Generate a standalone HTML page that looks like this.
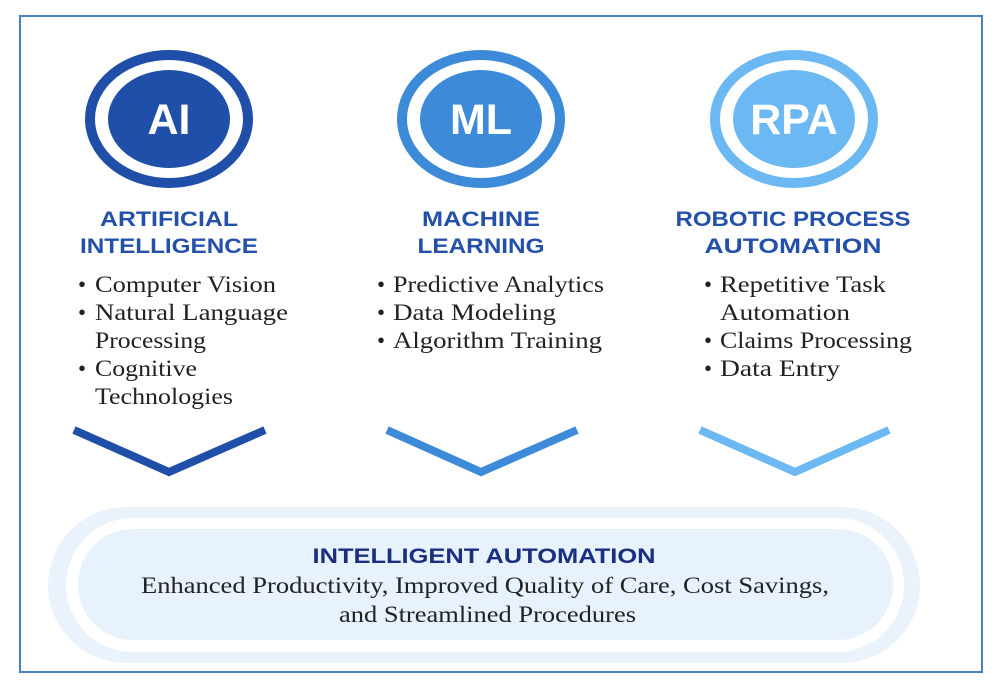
<!DOCTYPE html>
<html><head><meta charset="utf-8"><style>
html,body{margin:0;padding:0;background:#fff;}
svg{display:block;}
.t{font-family:"Liberation Sans",sans-serif;font-weight:bold;font-size:21px;text-anchor:middle;}
.b{font-family:"Liberation Serif",serif;font-size:23px;fill:#222;}
.c{font-family:"Liberation Sans",sans-serif;font-weight:bold;font-size:43px;fill:#fff;text-anchor:middle;}
</style></head><body>
<svg width="992" height="683" viewBox="0 0 992 683" xmlns="http://www.w3.org/2000/svg">
<rect x="0" y="0" width="992" height="683" fill="#fff"/>
<rect x="20" y="16" width="962" height="656" fill="#fff" stroke="#4a7fc1" stroke-width="2"/>

<g>
<ellipse cx="169" cy="119" rx="79" ry="64" fill="none" stroke="#1f4fa8" stroke-width="10"/>
<ellipse cx="169" cy="119" rx="61" ry="49" fill="#1f4fa8"/>
<text class="c" x="169" y="134">AI</text>
<ellipse cx="481" cy="119" rx="79" ry="64" fill="none" stroke="#3d8ad8" stroke-width="10"/>
<ellipse cx="481" cy="119" rx="61" ry="49" fill="#3d8ad8"/>
<text class="c" x="481" y="134">ML</text>
<ellipse cx="794" cy="119" rx="79" ry="64" fill="none" stroke="#6cb8f2" stroke-width="10"/>
<ellipse cx="794" cy="119" rx="61" ry="49" fill="#6cb8f2"/>
<text class="c" x="794" y="134">RPA</text>
</g>

<g fill="#2350a8">
<text class="t" x="169" y="226" textLength="138" lengthAdjust="spacingAndGlyphs">ARTIFICIAL</text>
<text class="t" x="169" y="253" textLength="178" lengthAdjust="spacingAndGlyphs">INTELLIGENCE</text>
<text class="t" x="481" y="226" textLength="118" lengthAdjust="spacingAndGlyphs">MACHINE</text>
<text class="t" x="481" y="253" textLength="127" lengthAdjust="spacingAndGlyphs">LEARNING</text>
<text class="t" x="793" y="226" textLength="235" lengthAdjust="spacingAndGlyphs">ROBOTIC PROCESS</text>
<text class="t" x="793" y="253" textLength="177" lengthAdjust="spacingAndGlyphs">AUTOMATION</text>
</g>

<g>
<text class="b" x="78" y="292">•</text><text class="b" x="95" y="292" textLength="181" lengthAdjust="spacingAndGlyphs">Computer Vision</text>
<text class="b" x="78" y="320">•</text><text class="b" x="95" y="320" textLength="193" lengthAdjust="spacingAndGlyphs">Natural Language</text>
<text class="b" x="95" y="348" textLength="111" lengthAdjust="spacingAndGlyphs">Processing</text>
<text class="b" x="78" y="376">•</text><text class="b" x="95" y="376" textLength="102" lengthAdjust="spacingAndGlyphs">Cognitive</text>
<text class="b" x="95" y="404" textLength="138" lengthAdjust="spacingAndGlyphs">Technologies</text>

<text class="b" x="377" y="292">•</text><text class="b" x="393" y="292" textLength="211" lengthAdjust="spacingAndGlyphs">Predictive Analytics</text>
<text class="b" x="377" y="320">•</text><text class="b" x="393" y="320" textLength="163" lengthAdjust="spacingAndGlyphs">Data Modeling</text>
<text class="b" x="377" y="348">•</text><text class="b" x="393" y="348" textLength="209" lengthAdjust="spacingAndGlyphs">Algorithm Training</text>

<text class="b" x="704" y="292">•</text><text class="b" x="720" y="292" textLength="166" lengthAdjust="spacingAndGlyphs">Repetitive Task</text>
<text class="b" x="720" y="320" textLength="130" lengthAdjust="spacingAndGlyphs">Automation</text>
<text class="b" x="704" y="348">•</text><text class="b" x="720" y="348" textLength="192" lengthAdjust="spacingAndGlyphs">Claims Processing</text>
<text class="b" x="704" y="376">•</text><text class="b" x="720" y="376" textLength="120" lengthAdjust="spacingAndGlyphs">Data Entry</text>
</g>

<polyline points="74,430 169,472 265,430" fill="none" stroke="#1f4fa8" stroke-width="8"/>
<polyline points="387,430 481,472 577,430" fill="none" stroke="#3d8ad8" stroke-width="8"/>
<polyline points="700,430 795,472 889,430" fill="none" stroke="#6cb8f2" stroke-width="8"/>

<rect x="48" y="507" width="872" height="156" rx="78" ry="78" fill="#eaf3fc"/>
<rect x="66" y="518" width="838" height="134" rx="67" ry="67" fill="#fff"/>
<rect x="78" y="529" width="815" height="111" rx="55" ry="55" fill="#e7f2fc"/>
<text class="t" x="484" y="563" fill="#1a2f80" textLength="343" lengthAdjust="spacingAndGlyphs">INTELLIGENT AUTOMATION</text>
<text class="b" x="141" y="593" textLength="688" lengthAdjust="spacingAndGlyphs">Enhanced Productivity, Improved Quality of Care, Cost Savings,</text>
<text class="b" x="339" y="622" textLength="297" lengthAdjust="spacingAndGlyphs">and Streamlined Procedures</text>
</svg>
</body></html>
